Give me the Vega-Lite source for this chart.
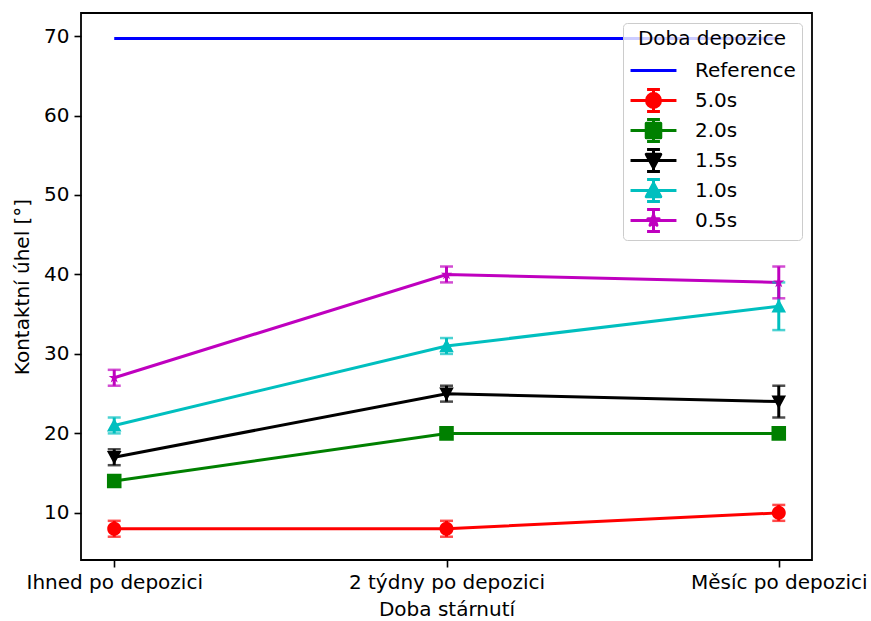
{
  "$schema": "https://vega.github.io/schema/vega-lite/v6.json",
  "width": 731,
  "height": 547,
  "autosize": {"type": "none"},
  "padding": {"left": 81, "top": 13, "right": 59, "bottom": 61},
  "background": "white",
  "config": {
    "font": "DejaVu Sans",
    "view": {"stroke": "black", "strokeWidth": 1.8},
    "axis": {
      "grid": false, "domain": false, "tickColor": "black", "tickSize": 7, "tickWidth": 1.6,
      "labelFont": "DejaVu Sans", "labelFontSize": 20, "labelColor": "black", "labelLimit": 0,
      "titleFont": "DejaVu Sans", "titleFontSize": 20, "titleFontWeight": "normal", "titleColor": "black"
    }
  },
  "data": {
    "values": [
      {"time": "Ihned po depozici", "series": "Reference", "y": 69.7, "lo": 69.7, "hi": 69.7},
      {"time": "2 týdny po depozici", "series": "Reference", "y": 69.7, "lo": 69.7, "hi": 69.7},
      {"time": "Měsíc po depozici", "series": "Reference", "y": 69.7, "lo": 69.7, "hi": 69.7},
      {"time": "Ihned po depozici", "series": "5.0s", "y": 8, "lo": 7, "hi": 9},
      {"time": "2 týdny po depozici", "series": "5.0s", "y": 8, "lo": 7, "hi": 9},
      {"time": "Měsíc po depozici", "series": "5.0s", "y": 10, "lo": 9, "hi": 11},
      {"time": "Ihned po depozici", "series": "2.0s", "y": 14, "lo": 13.5, "hi": 14.5},
      {"time": "2 týdny po depozici", "series": "2.0s", "y": 20, "lo": 19.5, "hi": 20.5},
      {"time": "Měsíc po depozici", "series": "2.0s", "y": 20, "lo": 19.5, "hi": 20.5},
      {"time": "Ihned po depozici", "series": "1.5s", "y": 17, "lo": 16, "hi": 18},
      {"time": "2 týdny po depozici", "series": "1.5s", "y": 25, "lo": 24, "hi": 26},
      {"time": "Měsíc po depozici", "series": "1.5s", "y": 24, "lo": 22, "hi": 26},
      {"time": "Ihned po depozici", "series": "1.0s", "y": 21, "lo": 20, "hi": 22},
      {"time": "2 týdny po depozici", "series": "1.0s", "y": 31, "lo": 30, "hi": 32},
      {"time": "Měsíc po depozici", "series": "1.0s", "y": 36, "lo": 33, "hi": 39},
      {"time": "Ihned po depozici", "series": "0.5s", "y": 27, "lo": 26, "hi": 28},
      {"time": "2 týdny po depozici", "series": "0.5s", "y": 40, "lo": 39, "hi": 41},
      {"time": "Měsíc po depozici", "series": "0.5s", "y": 39, "lo": 37, "hi": 41}
    ]
  },
  "encoding": {
    "x": {
      "field": "time", "type": "nominal",
      "scale": {"type": "point", "padding": 0.1, "domain": ["Ihned po depozici", "2 týdny po depozici", "Měsíc po depozici"]},
      "axis": {"title": "Doba stárnutí", "labelAngle": 0, "labelPadding": 5, "titlePadding": 7}
    },
    "color": {
      "field": "series", "type": "nominal",
      "scale": {
        "domain": ["Reference", "5.0s", "2.0s", "1.5s", "1.0s", "0.5s"],
        "range": ["#0000ff", "#ff0000", "#008000", "#000000", "#00bfbf", "#bf00bf"]
      }
    }
  },
  "layer": [
    {
      "mark": {"type": "line", "strokeWidth": 3},
      "encoding": {
        "y": {
          "field": "y", "type": "quantitative",
          "scale": {"domain": [4.07, 72.9], "nice": false, "zero": false},
          "axis": {"title": "Kontaktní úhel [°]", "values": [10, 20, 30, 40, 50, 60, 70], "labelPadding": 5, "titlePadding": 11}
        },
        "detail": {"field": "series"}
      }
    },
    {
      "transform": [{"filter": "datum.series !== 'Reference'"}],
      "mark": {"type": "rule", "strokeWidth": 3},
      "encoding": {
        "y": {"field": "lo", "type": "quantitative"},
        "y2": {"field": "hi"}
      }
    },
    {
      "transform": [{"filter": "datum.series !== 'Reference'"}],
      "mark": {"type": "tick", "size": 13, "thickness": 2.5},
      "encoding": {"y": {"field": "lo", "type": "quantitative"}}
    },
    {
      "transform": [{"filter": "datum.series !== 'Reference'"}],
      "mark": {"type": "tick", "size": 13, "thickness": 2.5},
      "encoding": {"y": {"field": "hi", "type": "quantitative"}}
    },
    {
      "transform": [{"filter": "datum.series !== 'Reference'"}],
      "mark": {"type": "point", "filled": true, "opacity": 1, "size": 784},
      "encoding": {
        "y": {"field": "y", "type": "quantitative"},
        "color": {
          "field": "series", "type": "nominal",
          "legend": {
            "title": "Doba depozice",
            "orient": "top-right", "offset": 10,
            "titleFont": "DejaVu Sans", "titleFontSize": 20, "titleFontWeight": "normal", "titleColor": "black", "titleAnchor": "middle", "titlePadding": 6,
            "labelFont": "DejaVu Sans", "labelFontSize": 20, "labelColor": "black", "labelOffset": 26,
            "fillColor": "rgba(255,255,255,0.8)", "strokeColor": "#cccccc", "cornerRadius": 4, "padding": 6,
            "symbolSize": 784, "rowPadding": 1, "symbolOffset": 9, "symbolOpacity": 1, "symbolStrokeWidth": 3,
            "encode": {"symbols": {"update": {"stroke": {"scale": "color", "field": "value"}, "strokeWidth": {"value": 3}, "strokeJoin": {"value": "round"}, "fill": {"scale": "color", "field": "value"}, "opacity": {"value": 1}, "fillOpacity": {"value": 1}, "strokeOpacity": {"value": 1}}}}
          }
        },
        "shape": {
          "field": "series", "type": "nominal",
          "scale": {
            "domain": ["Reference", "5.0s", "2.0s", "1.5s", "1.0s", "0.5s"],
            "range": [
              "M0,-0.79M0,0.79M-1.64,0H1.64",
              "M-1.64,0H1.64M0,-0.79V0.79M-0.46,-0.79H0.46M-0.46,0.79H0.46M-0.5,0A0.5,0.5 0 1,0 0.5,0A0.5,0.5 0 1,0 -0.5,0Z",
              "M-1.64,0H1.64M0,-0.79V0.79M-0.46,-0.79H0.46M-0.46,0.79H0.46M-0.52,-0.52H0.52V0.52H-0.52Z",
              "M-1.64,0H1.64M0,-0.79V0.79M-0.46,-0.79H0.46M-0.46,0.79H0.46M-0.52,-0.44L0.52,-0.44L0,0.52Z",
              "M-1.64,0H1.64M0,-0.79V0.79M-0.46,-0.79H0.46M-0.46,0.79H0.46M-0.52,0.44L0.52,0.44L0,-0.52Z",
              "M-1.64,0H1.64M0,-0.79V0.79M-0.46,-0.79H0.46M-0.46,0.79H0.46M0,-0.42L0.094,-0.129L0.399,-0.13L0.152,0.049L0.247,0.34L0,0.16L-0.247,0.34L-0.152,0.049L-0.399,-0.13L-0.094,-0.129Z"
            ]
          },
          "legend": {
            "title": "Doba depozice",
            "orient": "top-right", "offset": 10,
            "titleFont": "DejaVu Sans", "titleFontSize": 20, "titleFontWeight": "normal", "titleColor": "black", "titleAnchor": "middle", "titlePadding": 6,
            "labelFont": "DejaVu Sans", "labelFontSize": 20, "labelColor": "black", "labelOffset": 26,
            "fillColor": "rgba(255,255,255,0.8)", "strokeColor": "#cccccc", "cornerRadius": 4, "padding": 6,
            "symbolSize": 784, "rowPadding": 1, "symbolOffset": 9, "symbolOpacity": 1, "symbolStrokeWidth": 3,
            "encode": {"symbols": {"update": {"stroke": {"scale": "color", "field": "value"}, "strokeWidth": {"value": 3}, "strokeJoin": {"value": "round"}, "fill": {"scale": "color", "field": "value"}, "opacity": {"value": 1}, "fillOpacity": {"value": 1}, "strokeOpacity": {"value": 1}}}}
          }
        }
      }
    }
  ]
}
